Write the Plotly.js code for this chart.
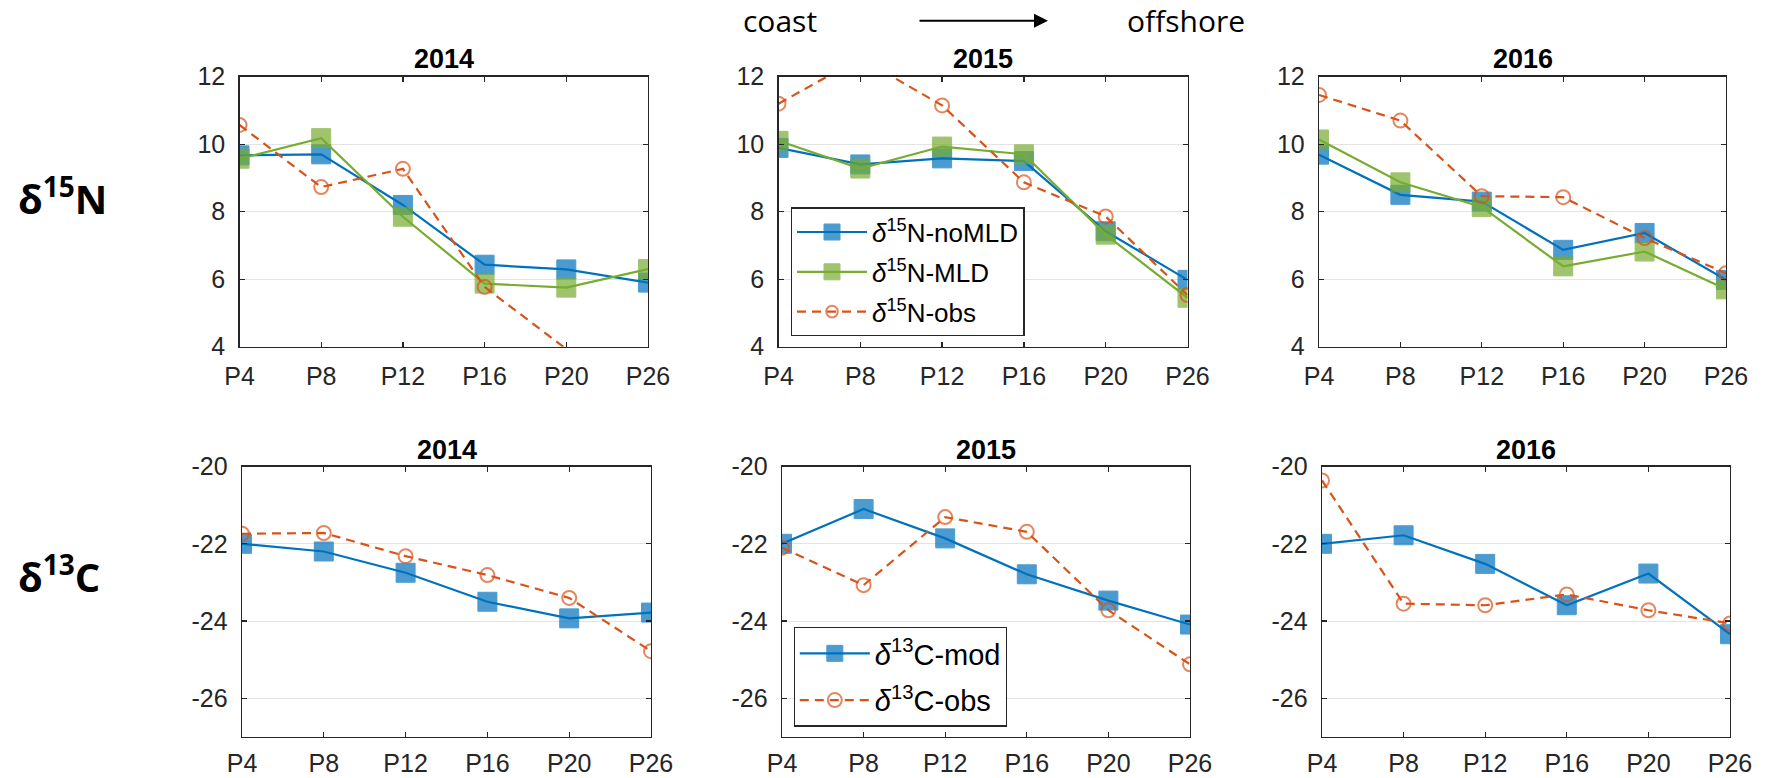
<!DOCTYPE html>
<html>
<head>
<meta charset="utf-8">
<script src="https://cdn.plot.ly/plotly-3.0.1.min.js"></script>
<style>html,body{margin:0;padding:0;background:#fff;}#chart{width:1766px;height:778px;}</style>
</head>
<body>
<div id="chart"></div>
<script>
// ---- data ----
const stations = ['P4', 'P8', 'P12', 'P16', 'P20', 'P26'];
const years = ['2014', '2015', '2016'];

// δ15N (top row)
const n2014_noMLD = [9.67, 9.70, 8.20, 6.43, 6.29, 5.90];
const n2014_MLD   = [9.57, 10.18, 7.85, 5.87, 5.75, 6.30];
const n2014_obs   = [10.57, 8.73, 9.27, 5.77, 3.93, 3.50];
const n2015_noMLD = [9.89, 9.40, 9.58, 9.50, 7.42, 5.98];
const n2015_MLD   = [10.10, 9.28, 9.93, 9.70, 7.32, 5.45];
const n2015_obs   = [11.20, 12.55, 11.15, 8.87, 7.86, 5.53];
const n2016_noMLD = [9.69, 8.50, 8.30, 6.87, 7.37, 5.98];
const n2016_MLD   = [10.14, 8.87, 8.14, 6.38, 6.82, 5.70];
const n2016_obs   = [11.46, 10.70, 8.46, 8.43, 7.22, 6.18];

// δ13C (bottom row)
const c2014_mod = [-22.00, -22.20, -22.75, -23.50, -23.93, -23.78];
const c2014_obs = [-21.74, -21.72, -22.32, -22.81, -23.40, -24.78];
const c2015_mod = [-22.00, -21.10, -21.86, -22.79, -23.47, -24.09];
const c2015_obs = [-22.10, -23.07, -21.31, -21.69, -23.72, -25.12];
const c2016_mod = [-22.00, -21.78, -22.52, -23.59, -22.77, -24.34];
const c2016_obs = [-20.36, -23.55, -23.59, -23.31, -23.72, -24.06];

const nTicks = [4, 6, 8, 10, 12];
const cTicks = [-26, -24, -22, -20];
const nRange = [4, 12];
const cRange = [-27, -20];

// ---- styles ----
const BLUE = '#0072BD', GREEN = '#77AC30', ORANGE = '#D95319';
const AX = '#262626';
const W = 1766, H = 778;
const FONT = 'Liberation Sans, Arial, sans-serif';

function sizesIn(vals, range, s) {
  return vals.map(v => (v >= range[0] && v <= range[1]) ? s : 0);
}

const topData = [
  [n2014_noMLD, n2014_MLD, n2014_obs],
  [n2015_noMLD, n2015_MLD, n2015_obs],
  [n2016_noMLD, n2016_MLD, n2016_obs]
];
const botData = [
  [c2014_mod, c2014_obs],
  [c2015_mod, c2015_obs],
  [c2016_mod, c2016_obs]
];

// panel boxes in pixels [left, right, top, bottom]
const topBoxes = [[239.5, 648, 76.7, 346.7], [778.5, 1187.5, 76.7, 346.7], [1319, 1726, 76.7, 346.7]];
const botBoxes = [[242, 651, 466.5, 737], [782, 1190, 466.5, 737], [1322, 1730, 466.5, 737]];

const traces = [];
const layout = {
  width: W, height: H,
  margin: {l: 0, r: 0, t: 0, b: 0},
  paper_bgcolor: '#fff', plot_bgcolor: '#fff',
  font: {family: FONT, size: 25, color: AX},
  showlegend: true,
  annotations: [],
  shapes: []
};

const nNames = ['<i>δ</i><sup>15</sup>N-noMLD', '<i>δ</i><sup>15</sup>N-MLD', '<i>δ</i><sup>15</sup>N-obs'];
const cNames = ['<i>δ</i><sup>13</sup>C-mod', '<i>δ</i><sup>13</sup>C-obs'];

function axisPair(idx, box, range, tickvals, standoff) {
  const xk = idx === 1 ? 'xaxis' : 'xaxis' + idx;
  const yk = idx === 1 ? 'yaxis' : 'yaxis' + idx;
  const xid = idx === 1 ? 'x' : 'x' + idx;
  const yid = idx === 1 ? 'y' : 'y' + idx;
  layout[xk] = {
    domain: [box[0] / W, box[1] / W],
    anchor: yid,
    type: 'category',
    categoryarray: stations,
    range: [0, stations.length - 1],
    showline: true, linecolor: AX, linewidth: 1.3, mirror: 'ticks',
    ticks: 'inside', ticklen: 5, tickcolor: AX, tickwidth: 1.3,
    showgrid: false, zeroline: false,
    ticklabelstandoff: standoff,
    tickfont: {size: 25, color: AX, family: FONT},
    fixedrange: true
  };
  layout[yk] = {
    domain: [1 - box[3] / H, 1 - box[2] / H],
    anchor: xid,
    range: range,
    tickvals: tickvals,
    ticktext: tickvals.map(v => String(v)),
    showline: true, linecolor: AX, linewidth: 1.3, mirror: 'ticks',
    ticks: 'inside', ticklen: 5, tickcolor: AX, tickwidth: 1.3,
    showgrid: true, gridcolor: '#e3e3e3', gridwidth: 1,
    zeroline: false,
    ticklabelstandoff: 8,
    tickfont: {size: 25, color: AX, family: FONT},
    fixedrange: true
  };
  return [xid, yid];
}

// top row
topData.forEach((set, i) => {
  const [xid, yid] = axisPair(i + 1, topBoxes[i], nRange, nTicks, 7);
  const colors = [BLUE, GREEN, ORANGE];
  set.forEach((vals, j) => {
    const isObs = j === 2;
    traces.push({
      type: 'scatter', mode: 'lines+markers',
      x: stations, y: vals, xaxis: xid, yaxis: yid,
      name: nNames[j],
      legend: 'legend',
      legendgroup: 'n' + j,
      showlegend: i === 1,
      line: {color: colors[j], width: 2.2, dash: isObs ? '9px,6px' : 'solid'},
      marker: isObs
        ? {symbol: 'circle-open', size: sizesIn(vals, nRange, 14), color: colors[j], line: {width: 2, color: colors[j]}}
        : {symbol: 'square', size: sizesIn(vals, nRange, 19), color: colors[j], line: {width: 1, color: colors[j]}},
      cliponaxis: true,
      hoverinfo: 'skip'
    });
  });
  const b = topBoxes[i];
  layout.annotations.push({
    xref: 'paper', yref: 'paper', x: (b[0] + b[1]) / 2 / W, y: 1 - (b[2] - 17.5) / H,
    xanchor: 'center', yanchor: 'middle', showarrow: false,
    text: '<b>' + years[i] + '</b>',
    font: {family: FONT, size: 27, color: '#000'}
  });
});

// bottom row
botData.forEach((set, i) => {
  const [xid, yid] = axisPair(i + 4, botBoxes[i], cRange, cTicks, 4);
  const colors = [BLUE, ORANGE];
  set.forEach((vals, j) => {
    const isObs = j === 1;
    traces.push({
      type: 'scatter', mode: 'lines+markers',
      x: stations, y: vals, xaxis: xid, yaxis: yid,
      name: cNames[j],
      legend: 'legend2',
      legendgroup: 'c' + j,
      showlegend: i === 1,
      line: {color: colors[j], width: 2.2, dash: isObs ? '9px,6px' : 'solid'},
      marker: isObs
        ? {symbol: 'circle-open', size: sizesIn(vals, cRange, 14), color: colors[j], line: {width: 2, color: colors[j]}}
        : {symbol: 'square', size: sizesIn(vals, cRange, 19), color: colors[j], line: {width: 1, color: colors[j]}},
      cliponaxis: true,
      hoverinfo: 'skip'
    });
  });
  const b = botBoxes[i];
  layout.annotations.push({
    xref: 'paper', yref: 'paper', x: (b[0] + b[1]) / 2 / W, y: 1 - (b[2] - 16.5) / H,
    xanchor: 'center', yanchor: 'middle', showarrow: false,
    text: '<b>' + years[i] + '</b>',
    font: {family: FONT, size: 27, color: '#000'}
  });
});

layout.legend = {
  x: 790.7 / W, y: 1 - 207.3 / H, xanchor: 'left', yanchor: 'top',
  bgcolor: '#fff', bordercolor: AX, borderwidth: 1.3,
  font: {family: FONT, size: 26, color: '#000'},
  traceorder: 'grouped', tracegroupgap: 3, itemwidth: 70
};
layout.legend2 = {
  x: 793.5 / W, y: 1 - 626.7 / H, xanchor: 'left', yanchor: 'top',
  bgcolor: '#fff', bordercolor: AX, borderwidth: 1.3,
  font: {family: FONT, size: 29, color: '#000'},
  traceorder: 'grouped', tracegroupgap: 6, itemwidth: 70
};

// row labels
layout.annotations.push({
  xref: 'paper', yref: 'paper', x: 16 / W, y: 1 - 196 / H, xanchor: 'left', yanchor: 'middle',
  showarrow: false, text: '<b>δ<sup>15</sup>N</b>',
  font: {family: 'Open Sans, Noto Sans, sans-serif', size: 40, color: '#000'}
});
layout.annotations.push({
  xref: 'paper', yref: 'paper', x: 16 / W, y: 1 - 574 / H, xanchor: 'left', yanchor: 'middle',
  showarrow: false, text: '<b>δ<sup>13</sup>C</b>',
  font: {family: 'Open Sans, Noto Sans, sans-serif', size: 40, color: '#000'}
});

// coast -> offshore
layout.annotations.push({
  xref: 'paper', yref: 'paper', x: 741 / W, y: 1 - 21 / H, xanchor: 'left', yanchor: 'middle',
  showarrow: false, text: 'coast',
  font: {family: 'Open Sans, Noto Sans, sans-serif', size: 30, color: '#000'}
});
layout.annotations.push({
  xref: 'paper', yref: 'paper', x: 1125 / W, y: 1 - 21 / H, xanchor: 'left', yanchor: 'middle',
  showarrow: false, text: 'offshore',
  font: {family: 'Open Sans, Noto Sans, sans-serif', size: 30, color: '#000'}
});
layout.annotations.push({
  xref: 'paper', yref: 'paper', x: 1048 / W, y: 1 - 20.7 / H,
  ax: -130, ay: 0, axref: 'pixel', ayref: 'pixel',
  showarrow: true, text: '', arrowhead: 2, arrowsize: 1.4, arrowwidth: 2, arrowcolor: '#000'
});

Plotly.newPlot('chart', traces, layout, {displayModeBar: false, staticPlot: true});
</script>
</body>
</html>
